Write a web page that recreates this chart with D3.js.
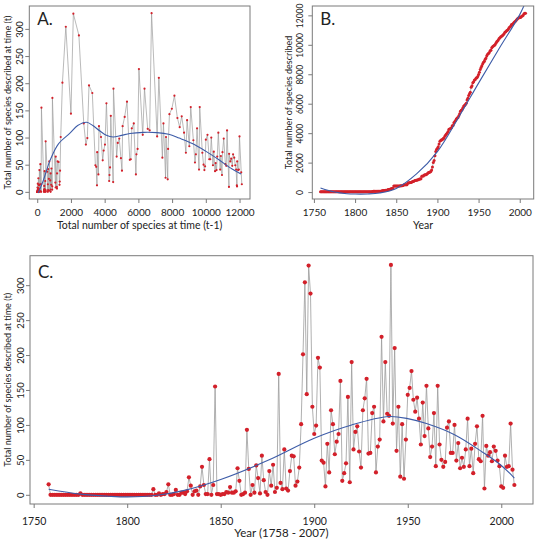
<!DOCTYPE html>
<html><head><meta charset="utf-8">
<script src="https://cdn.jsdelivr.net/npm/d3@7"></script>
<style>
body{margin:0;background:#fff}
svg text{font-family:Lato,"Open Sans",sans-serif;fill:#222}
</style></head><body>
<svg id="chart" width="537" height="543"></svg>
<script>
// ---------------- data ----------------
const firstYear = 1758;
// species described per year, 1758 - 2007
const counts = [
  15,0,                                   // 1758-1759
  0,0,0,0,0,0,0,0,0,0,                    // 1760s
  0,0,0,0,0,2,0,0,0,0,                    // 1770s
  0,0,0,0,0,0,0,0,0,0,                    // 1780s
  0,0,0,0,0,0,0,0,0,0,                    // 1790s
  0,0,0,0,0,0,0,0,0,0,                    // 1800s
  0,0,0,0,8,0,0,2,0,1,                    // 1810s
  1,4,15,0,0,1,7,0,0,3,                   // 1820s
  3,1,5,25,13,0,5,6,0,12,                 // 1830s
  40,14,1,1,51,0,14,155,1,1,              // 1840s
  0,1,1,4,3,11,3,3,5,38,                  // 1850s
  20,0,1,3,93,37,0,14,3,42,               // 1860s
  24,2,56,21,4,0,34,13,43,4,              // 1870s
  10,173,17,8,65,9,6,34,56,55,            // 1880s
  13,19,39,101,201,304,144,328,288,126,   // 1890s
  87,99,196,182,49,46,12,73,32,121,       // 1900s
  101,58,76,87,163,20,31,45,140,18,       // 1910s
  190,65,90,98,62,39,121,138,166,59,      // 1920s
  60,117,126,32,69,79,226,105,190,116,    // 1930s
  113,329,102,210,63,126,26,101,23,79,    // 1940s
  143,153,177,136,119,139,109,72,132,84,  // 1950s
  156,95,54,69,117,41,156,72,50,40,       // 1960s
  47,96,105,60,60,100,49,74,38,53,        // 1970s
  40,65,109,41,66,31,73,98,51,48,         // 1980s
  113,9,70,56,61,48,69,63,49,41,          // 1990s
  12,10,56,40,41,102,36,14                // 2000-2007
];

// fitted (smooth) curves
const fitA_x = [60,350,750,1250,1940,2400,2930,3300,3720,4100,4500,5000,5500,6300,7100,7800,8420,9200,9990,10780,11560,12090];
const fitA_y = [-2,20,57,88,108,122,128,122,112,104,101,104,107.5,109.5,109,106,99,89,75,59,42,33];
const fitB_years = [1758,1775,1790,1800,1815,1830,1850,1875,1900,1925,1950,1975,2000,2010];
const fitB_vals  = [270,0,-110,-135,-130,-60,250,1250,2750,5000,7400,9750,12050,13300];
const fitC_years = [1758,1775,1790,1800,1815,1830,1850,1875,1900,1920,1940,1950,1960,1975,1990,2000,2007];
const fitC_vals  = [8,1,-2,-3,-1,6,22,49,81,100,112,109,102,86,61,42,24];

// tick values
const ticksA_x = [0,2000,4000,6000,8000,10000,12000];
const ticksA_y = [0,50,100,150,200,250,300];
const ticksB_x = [1750,1800,1850,1900,1950,2000];
const ticksB_y = [0,2000,4000,6000,8000,10000,12000];
const ticksC_x = [1750,1800,1850,1900,1950,2000];
const ticksC_y = [0,50,100,150,200,250,300];

// ---------------- derived ----------------
const years = counts.map((_, i) => firstYear + i);
const cumulative = Array.from(d3.cumsum(counts));
const lagPts = counts.slice(1).map((c, i) => ({x: cumulative[i], y: c}));
const cumPts = years.map((yr, i) => ({x: yr, y: cumulative[i]}));
const cntPts = years.map((yr, i) => ({x: yr, y: counts[i]}));

const RED = "#d3202a", GREY = "#9c9c9c", BLUE = "#3d5ca8", BOX = "#7a7a7a";
const svg = d3.select("#chart");

function pad(ext){ const r = ext[1]-ext[0]; return [ext[0]-0.04*r, ext[1]+0.04*r]; }

function panel(cfg){
  const {box, pts, fit, tx, ty, letter, xTitle, yTitle, id} = cfg;
  const x = d3.scaleLinear().domain(pad(d3.extent(pts, d => d.x))).range([box.l, box.r]);
  const y = d3.scaleLinear().domain(pad(d3.extent(pts, d => d.y))).range([box.b, box.t]);
  const g = svg.append("g");
  g.append("clipPath").attr("id", id).append("rect")
    .attr("x", box.l).attr("y", box.t).attr("width", box.r-box.l).attr("height", box.b-box.t);
  const plot = g.append("g").attr("clip-path", `url(#${id})`);
  const line = d3.line().x(d => x(d.x)).y(d => y(d.y));
  plot.append("path").datum(pts).attr("d", line)
    .attr("fill","none").attr("stroke", GREY).attr("stroke-width", cfg.lw);
  plot.selectAll("circle").data(pts).join("circle")
    .attr("cx", d => x(d.x)).attr("cy", d => y(d.y)).attr("r", cfg.r).attr("fill", RED);
  const fitLine = d3.line().x(d => x(d[0])).y(d => y(d[1])).curve(d3.curveCatmullRom.alpha(0.5));
  plot.append("path").datum(fit).attr("d", fitLine)
    .attr("fill","none").attr("stroke", BLUE).attr("stroke-width", 1.1);
  g.append("rect").attr("x", box.l).attr("y", box.t).attr("width", box.r-box.l).attr("height", box.b-box.t)
    .attr("fill","none").attr("stroke", BOX).attr("stroke-width", 1);

  // x axis
  const ax = g.append("g").attr("transform", `translate(0,${box.b})`)
    .call(d3.axisBottom(x).tickValues(tx).tickSize(4).tickSizeOuter(0).tickFormat(d3.format("d")));
  ax.select(".domain").remove();
  ax.selectAll("line").attr("stroke", BOX);
  ax.selectAll("text").attr("y", cfg.xLabOff).attr("dy", 0).style("font-size", cfg.xTickFs + "px");
  // y axis
  const ay = g.append("g").attr("transform", `translate(${box.l},0)`)
    .call(d3.axisLeft(y).tickValues(ty).tickSize(4).tickSizeOuter(0).tickFormat(d3.format("d")));
  ay.select(".domain").remove();
  ay.selectAll("line").attr("stroke", BOX);
  ay.selectAll("text").attr("x", 0).attr("dy", 0).attr("text-anchor","middle")
    .attr("transform", `translate(${-cfg.yLabOff},0) rotate(-90)`).style("font-size", cfg.yTickFs + "px");

  g.append("text").attr("x", (box.l+box.r)/2).attr("y", cfg.xTitleY).attr("text-anchor","middle")
    .style("font-size", cfg.xTitleFs + "px").text(xTitle);
  g.append("text").attr("transform", `translate(${cfg.yTitleX},${(box.t+box.b)/2}) rotate(-90)`)
    .attr("text-anchor","middle").style("font-size", cfg.yTitleFs + "px").text(yTitle);
  g.append("text").attr("x", box.l + 8).attr("y", box.t + cfg.letterDy)
    .style("font-size", "17px").text(letter);
}

panel({id:"clipA", box:{l:29.3,t:6,r:250,b:199}, pts: lagPts,
  fit: fitA_x.map((v,i)=>[v, fitA_y[i]]), tx: ticksA_x, ty: ticksA_y, r:1.1, lw:0.7,
  letter:"A.", xTitle:"Total number of species at time (t-1)", yTitle:"Total number of species described at time (t)",
  xLabOff:17, yLabOff:6, xTickFs:10, yTickFs:9.5, xTitleY:229, xTitleFs:10.5, yTitleX:10.5, yTitleFs:9, letterDy:19});

panel({id:"clipB", box:{l:312.3,t:6,r:533.7,b:199}, pts: cumPts,
  fit: fitB_years.map((v,i)=>[v, fitB_vals[i]]), tx: ticksB_x, ty: ticksB_y, r:1.5, lw:0.7,
  letter:"B.", xTitle:"Year", yTitle:"Total number of species described",
  xLabOff:17, yLabOff:9, xTickFs:10, yTickFs:8.5, xTitleY:229, xTitleFs:10.5, yTitleX:292, yTitleFs:9, letterDy:19});

panel({id:"clipC", box:{l:30,t:255.7,r:533,b:504}, pts: cntPts,
  fit: fitC_years.map((v,i)=>[v, fitC_vals[i]]), tx: ticksC_x, ty: ticksC_y, r:2.1, lw:0.8,
  letter:"C.", xTitle:"Year (1758 - 2007)", yTitle:"Total number of species described at time (t)",
  xLabOff:21, yLabOff:6.5, xTickFs:10.5, yTickFs:9.5, xTitleY:537, xTitleFs:11.5, yTitleX:10.5, yTitleFs:9, letterDy:22});
</script>
</body></html>
